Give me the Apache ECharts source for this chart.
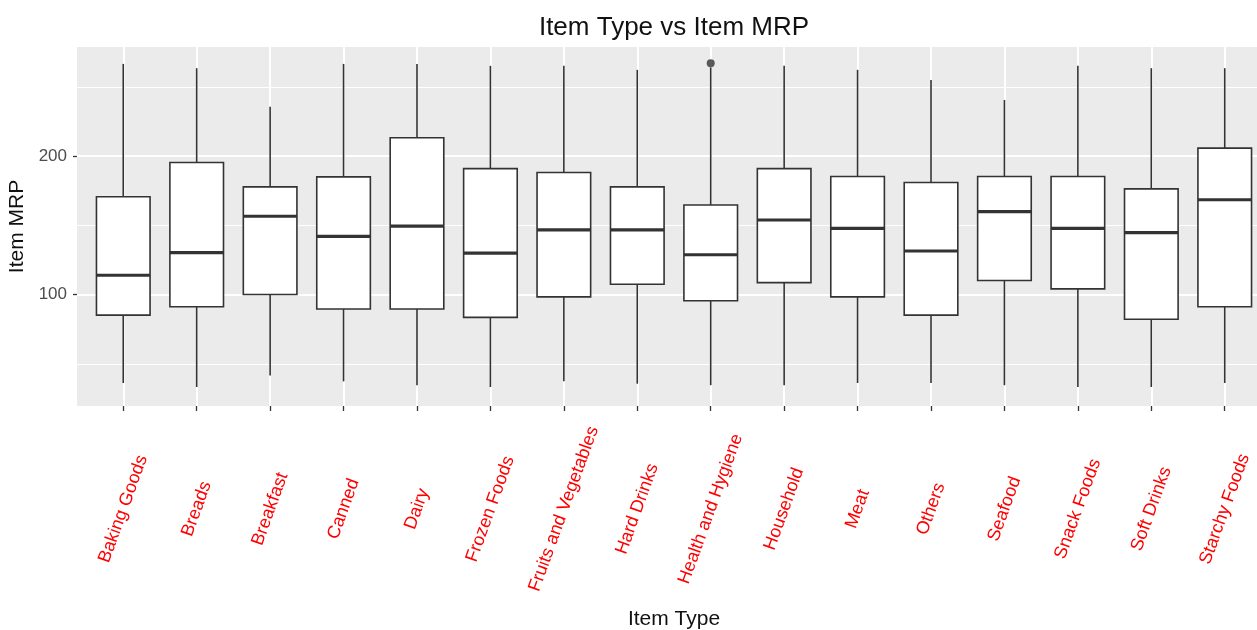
<!DOCTYPE html>
<html>
<head>
<meta charset="utf-8">
<script src="https://cdn.jsdelivr.net/npm/echarts@6/dist/echarts.min.js"></script>
<style>
html,body{margin:0;padding:0;background:#fff;}
#chart{width:1257px;height:630px;}
</style>
</head>
<body>
<div id="chart"></div>
<script>
const categories = ["Baking Goods","Breads","Breakfast","Canned","Dairy","Frozen Foods","Fruits and Vegetables","Hard Drinks","Health and Hygiene","Household","Meat","Others","Seafood","Snack Foods","Soft Drinks","Starchy Foods"];
const lowWhisker = [36.1, 33.2, 41.6, 37.3, 34.5, 33.2, 37.3, 35.6, 34.5, 34.5, 36.1, 36.1, 34.5, 33.2, 33.2, 36.1];
const q1 =         [85.1, 91.2, 100.0, 89.5, 89.5, 83.5, 98.3, 107.4, 95.5, 108.6, 98.3, 85.1, 110.1, 104.1, 82.1, 91.2];
const median =     [113.9, 130.2, 156.5, 141.9, 149.3, 129.9, 146.7, 146.7, 128.7, 153.8, 147.8, 131.4, 159.8, 147.8, 144.7, 168.4];
const q3 =         [170.6, 195.3, 177.7, 184.9, 213.2, 190.9, 188.1, 177.7, 164.6, 190.9, 185.2, 180.9, 185.2, 185.2, 176.3, 205.7];
const highWhisker =[266.5, 263.4, 235.5, 266.5, 266.5, 265.1, 265.1, 262.2, 264.0, 265.1, 262.2, 254.8, 240.4, 265.1, 263.4, 263.4];
const outliers = [[8, 267.0]];
const yMajorTicks = [100, 200];
const yMinorTicks = [50, 150, 250];

const boxData = categories.map((c, i) => [i, lowWhisker[i], q1[i], median[i], q3[i], highWhisker[i]]);
const xTicks = categories.map((c, i) => i);

const chart = echarts.init(document.getElementById('chart'), null, {renderer: 'canvas'});
const LINE = '#333333';
const FONT = '"Liberation Sans", Arial, sans-serif';

chart.setOption({
  animation: false,
  backgroundColor: '#ffffff',
  title: {
    text: 'Item Type vs Item MRP',
    left: 669, top: 10, textAlign: 'center',
    textStyle: {fontFamily: FONT, fontSize: 26, fontWeight: 'normal', color: '#111'}
  },
  grid: {
    left: 77, top: 47, width: 1194, height: 359,
    show: true, backgroundColor: '#EBEBEB', borderWidth: 0,
    containLabel: false, outerBoundsMode: 'none'
  },
  xAxis: {
    type: 'value', min: -0.63, max: 15.63,
    axisLine: {show: false, onZero: false},
    axisTick: {show: true, customValues: xTicks, length: 5, lineStyle: {color: LINE, width: 1.3}},
    axisLabel: {
      customValues: xTicks,
      formatter: v => categories[Math.round(v)],
      rotate: 70, align: 'center', verticalAlign: 'middle', margin: 103,
      color: '#ff0000', fontFamily: FONT, fontSize: 18
    },
    splitLine: {show: true, lineStyle: {color: '#ffffff', width: 2}},
    name: 'Item Type', nameLocation: 'middle', nameGap: 203,
    nameTextStyle: {fontFamily: FONT, fontSize: 21, color: '#111'}
  },
  yAxis: [{
    type: 'value', min: 19.5, max: 278.7,
    axisLine: {show: false, onZero: false},
    axisTick: {show: true, customValues: yMajorTicks, length: 4, lineStyle: {color: LINE, width: 1.3}},
    axisLabel: {customValues: yMajorTicks, margin: 10, color: '#4d4d4d', fontFamily: FONT, fontSize: 17},
    splitLine: {show: true, lineStyle: {color: '#ffffff', width: 2}},
    name: 'Item MRP', nameLocation: 'middle', nameRotate: 90, nameGap: 44,
    nameTextStyle: {fontFamily: FONT, fontSize: 21, color: '#111'}
  }, {
    type: 'value', min: 19.5, max: 278.7, position: 'left',
    axisLine: {show: false, onZero: false},
    axisTick: {show: false, customValues: yMinorTicks},
    axisLabel: {show: false, customValues: yMinorTicks},
    splitLine: {show: true, lineStyle: {color: '#ffffff', width: 1.2}}
  }],
  series: [{
    type: 'custom',
    xAxisIndex: 0, yAxisIndex: 0,
    data: boxData,
    z: 3,
    renderItem: function (params, api) {
      const x = api.value(0);
      const lo = api.coord([x, api.value(1)]);
      const b1 = api.coord([x, api.value(2)]);
      const md = api.coord([x, api.value(3)]);
      const b3 = api.coord([x, api.value(4)]);
      const hi = api.coord([x, api.value(5)]);
      const band = api.size([1, 0])[0];
      const hw = band * 0.365;
      const cx = lo[0];
      return {
        type: 'group',
        children: [
          {type: 'line', shape: {x1: cx, y1: hi[1], x2: cx, y2: b3[1]}, style: {stroke: LINE, lineWidth: 1.6}},
          {type: 'line', shape: {x1: cx, y1: b1[1], x2: cx, y2: lo[1]}, style: {stroke: LINE, lineWidth: 1.6}},
          {type: 'rect', shape: {x: cx - hw, y: b3[1], width: hw * 2, height: b1[1] - b3[1]}, style: {fill: '#ffffff', stroke: LINE, lineWidth: 1.6}},
          {type: 'line', shape: {x1: cx - hw, y1: md[1], x2: cx + hw, y2: md[1]}, style: {stroke: LINE, lineWidth: 3.2}}
        ]
      };
    }
  }, {
    type: 'scatter',
    xAxisIndex: 0, yAxisIndex: 0,
    data: outliers,
    symbol: 'circle', symbolSize: 8,
    itemStyle: {color: LINE},
    z: 4
  }]
});
</script>
</body>
</html>
